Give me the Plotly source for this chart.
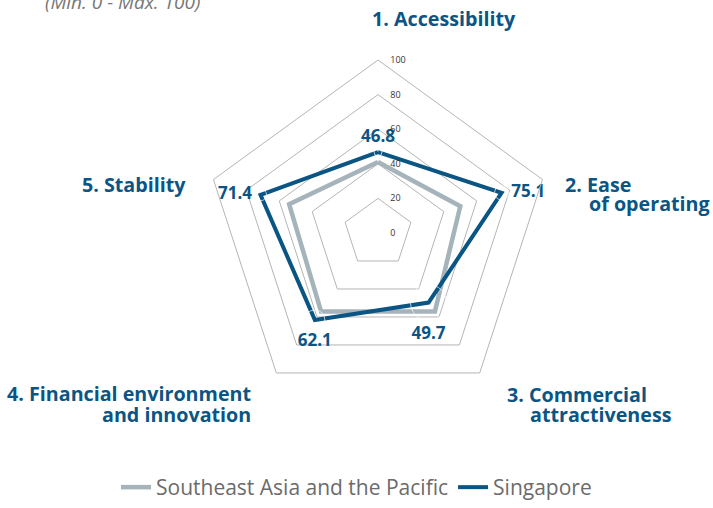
import plotly.graph_objects as go

categories = ["1. Accessibility", "2. Ease of operating", "3. Commercial attractiveness",
              "4. Financial environment and innovation", "5. Stability"]
sea_pacific = [41, 50, 56, 56, 54]
singapore = [46.8, 75.1, 49.7, 62.1, 71.4]
radial_ticks = [0, 20, 40, 60, 80, 100]

BLUE = "#0b5584"
GRAY = "#a5b3ba"
FONT = "Open Sans"

W, H = 713, 508
cx, cy, R = 378, 233, 173

def closed(v):
    return list(v) + [v[0]]

fig = go.Figure()
fig.add_trace(go.Scatterpolar(
    r=closed(sea_pacific), theta=closed(categories), mode="lines",
    line=dict(color=GRAY, width=4.5), name="Southeast Asia and the Pacific",
    hoverinfo="skip"))
fig.add_trace(go.Scatterpolar(
    r=closed(singapore), theta=closed(categories), mode="lines",
    line=dict(color=BLUE, width=4), name="Singapore",
    hoverinfo="skip"))
# value labels for Singapore (transparent markers control the label offset)
fig.add_trace(go.Scatterpolar(
    r=singapore, theta=categories, mode="markers+text",
    marker=dict(size=[8, 14, 36, 20, 12], color="rgba(0,0,0,0)"),
    text=[f"{v:.1f}" for v in singapore],
    textposition=["top center", "middle right", "bottom center", "bottom center", "middle left"],
    textfont=dict(family=FONT, size=17, color=BLUE, weight="bold"),
    showlegend=False, hoverinfo="skip"))

fig.update_layout(
    width=W, height=H,
    margin=dict(l=0, r=0, t=0, b=0),
    paper_bgcolor="white",
    plot_bgcolor="white",
    font=dict(family=FONT),
    polar=dict(
        domain=dict(x=[(cx - R) / W, (cx + R) / W], y=[(H - cy - R) / H, (H - cy + R) / H]),
        gridshape="linear",
        bgcolor="white",
        radialaxis=dict(range=[0, 100], tickvals=radial_ticks, showline=False,
                        gridcolor="#b5b5b5", gridwidth=1, angle=90, tickangle=90,
                        side="clockwise", ticks="outside", ticklen=10,
                        tickcolor="rgba(0,0,0,0)",
                        tickfont=dict(size=9, color="#333")),
        angularaxis=dict(rotation=90, direction="clockwise", showgrid=False,
                         showticklabels=False, ticks="", showline=True,
                         linecolor="#b5b5b5", linewidth=1),
    ),
    showlegend=True,
    legend=dict(orientation="h", x=0.5, xanchor="center", y=0, yanchor="bottom",
                font=dict(family=FONT, size=21, color="#6b6b6b"), itemwidth=30,
                tracegroupgap=0),
)

def ann(text, x, y, xanchor="left", size=19.7, color=BLUE, bold=True, italic=False):
    fig.add_annotation(text=text, x=x / W, y=(H - y) / H, xref="paper", yref="paper",
                       xanchor=xanchor, yanchor="middle", showarrow=False,
                       font=dict(family=FONT, size=size, color=color,
                                 weight="bold" if bold else "normal",
                                 style="italic" if italic else "normal"))

ann("(Min. 0 - Max. 100)", 43, 2, size=19, color="#777", bold=False, italic=True)
ann("1. Accessibility", 444, 18, xanchor="center")
ann("2. Ease", 563, 184)
ann("of operating", 712, 204, xanchor="right")
ann("3. Commercial", 505, 394.5)
ann("attractiveness", 528, 414.5)
ann("4. Financial environment", 253, 393.5, xanchor="right")
ann("and innovation", 253, 414.5, xanchor="right")
ann("5. Stability", 188, 184.5, xanchor="right")

fig.write_html("out.html", config={"displayModeBar": False},
               post_script="document.body.style.margin='0';document.body.style.overflow='hidden';")
